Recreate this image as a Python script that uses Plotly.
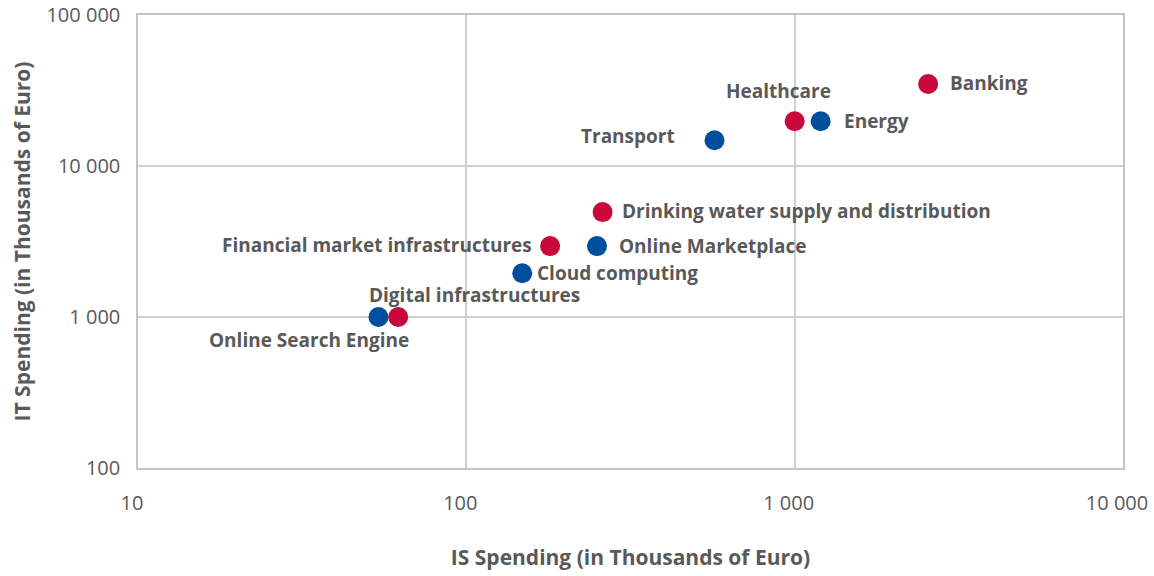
import plotly.graph_objects as go
import math

# Data
sectors = ["Online Search Engine", "Digital infrastructures", "Cloud computing",
           "Financial market infrastructures", "Online Marketplace",
           "Drinking water supply and distribution", "Transport", "Healthcare",
           "Energy", "Banking"]
is_spending = [54, 62, 148, 180, 250, 260, 570, 1000, 1200, 2550]
it_spending = [1000, 1000, 1950, 2950, 2950, 4950, 14800, 19800, 19800, 34900]
group = ["blue", "red", "blue", "red", "blue", "red", "blue", "red", "blue", "red"]

x_ticks = [10, 100, 1000, 10000]
x_ticktext = ["10", "100", "1 000", "10 000"]
y_ticks = [100, 1000, 10000, 100000]
y_ticktext = ["100", "1 000", "10 000", "100 000"]

colors = {"red": "#C8073A", "blue": "#004F9F"}

# label placement (style only): xanchor, yanchor, xshift, yshift
label_style = {
    "Online Search Engine": ("right", "middle", 33, -23),
    "Digital infrastructures": ("left", "middle", -31, 22),
    "Cloud computing": ("left", "middle", 13, 0),
    "Financial market infrastructures": ("right", "middle", -16, 1),
    "Online Marketplace": ("left", "middle", 20, 0),
    "Drinking water supply and distribution": ("left", "middle", 17, 1),
    "Transport": ("right", "middle", -38, 4),
    "Healthcare": ("left", "middle", -71, 30),
    "Energy": ("left", "middle", 21, 0),
    "Banking": ("left", "middle", 20, 1),
}

fig = go.Figure()
for g in ["blue", "red"]:
    idx = [i for i, gg in enumerate(group) if gg == g]
    fig.add_trace(go.Scatter(
        x=[is_spending[i] for i in idx],
        y=[it_spending[i] for i in idx],
        mode="markers",
        marker=dict(size=20, color=colors[g], line=dict(width=0)),
        hovertext=[sectors[i] for i in idx],
        showlegend=False,
    ))

for s, xv, yv in zip(sectors, is_spending, it_spending):
    xa, ya, xs, ys = label_style[s]
    fig.add_annotation(
        x=math.log10(xv), y=math.log10(yv), text=s, showarrow=False,
        xanchor=xa, yanchor=ya, xshift=xs, yshift=ys,
        font=dict(family="Open Sans", size=19, color="#595959", weight="bold"),
    )

axis_common = dict(
    type="log", showgrid=True, gridcolor="#CFCFCF", gridwidth=1.5,
    showline=True, linecolor="#C4C4C4", linewidth=1.5, mirror=True,
    zeroline=False, ticks="", automargin=False, ticklabeloverflow="allow",
    tickfont=dict(family="Open Sans", size=20, color="#595959"),
)

fig.update_layout(
    width=1154, height=576,
    margin=dict(l=138, r=31, t=15, b=108),
    paper_bgcolor="white", plot_bgcolor="white",
    xaxis=dict(
        **axis_common,
        range=[1, 4], tickvals=x_ticks, ticktext=x_ticktext,
        ticklabelstandoff=16, ticklabelshift=-6,
        title=dict(text="IS Spending (in Thousands of Euro)", standoff=36,
                   font=dict(family="Open Sans", size=21, color="#595959", weight="bold")),
    ),
    yaxis=dict(
        **axis_common,
        range=[2, 5], tickvals=y_ticks, ticktext=y_ticktext,
        ticklabelstandoff=12,
        title=dict(text="IT Spending (in Thousands of Euro)", standoff=10,
                   font=dict(family="Open Sans", size=21, color="#595959", weight="bold")),
    ),
)

fig.write_html("out.html", config={"displayModeBar": False},
               post_script="document.body.style.margin='0';")
